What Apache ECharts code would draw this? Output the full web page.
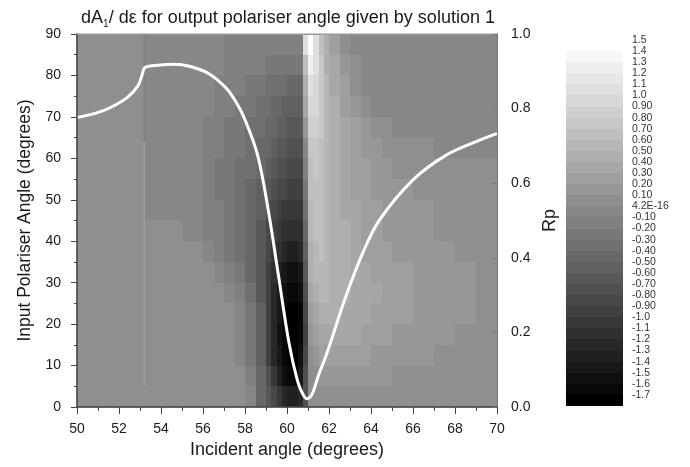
<!DOCTYPE html>
<html><head><meta charset="utf-8">
<script src="https://cdn.jsdelivr.net/npm/echarts@6/dist/echarts.min.js"></script>
<style>html,body{margin:0;padding:0;background:#fff}#c{width:690px;height:467px}</style>
</head><body><div id="c"></div>
<script>
// ---- data ----
// column (incident angle) bin edges, degrees
const incidentEdges = [50,53.2,54,55,56,56.5,57,57.5,58,58.5,59,59.25,59.5,59.75,60,60.25,60.5,60.75,61,61.25,61.5,61.75,62,62.5,63,63.5,64,64.5,65,66,67,68,69,70];
// row (input polariser angle) bin edges, from top to bottom
const polariserEdges = [90,85,80,75,70,65,60,55,50,45,40,35,30,25,20,15,10,5,0];
// dA1/de, one row per polariser band (top row first)
const dAdeRows = [
 [0.05,-0.05,-0.05,-0.05,-0.05,-0.05,-0.15,-0.15,-0.15,-0.15,-0.15,-0.15,-0.15,-0.15,-0.15,-0.15,-0.15,1.05,1.45,1.0,0.65,0.45,0.25,0.05,-0.05,-0.05,-0.05,-0.05,-0.05,-0.05,-0.05,-0.05,-0.05],
 [0.05,-0.05,-0.05,-0.05,-0.05,-0.05,-0.15,-0.15,-0.15,-0.15,-0.25,-0.25,-0.25,-0.25,-0.25,-0.25,-0.25,0.65,1.25,1.0,0.7,0.45,0.3,0.15,0.05,-0.05,-0.05,-0.05,-0.05,-0.05,-0.05,-0.05,-0.05],
 [0.05,-0.05,-0.05,-0.05,-0.05,-0.15,-0.15,-0.15,-0.25,-0.25,-0.35,-0.35,-0.35,-0.35,-0.45,-0.45,-0.45,0.45,1.05,0.95,0.75,0.55,0.35,0.2,0.05,-0.05,-0.05,-0.05,-0.05,-0.05,-0.05,-0.05,-0.05],
 [0.05,-0.05,-0.05,-0.05,-0.05,-0.15,-0.15,-0.25,-0.25,-0.35,-0.35,-0.45,-0.45,-0.55,-0.55,-0.55,-0.55,0.3,0.95,0.9,0.75,0.55,0.4,0.25,0.15,0.05,-0.05,-0.05,-0.05,-0.05,-0.05,-0.05,-0.05],
 [0.05,-0.05,-0.05,-0.05,-0.15,-0.15,-0.25,-0.25,-0.35,-0.35,-0.45,-0.45,-0.55,-0.55,-0.65,-0.65,-0.65,0.15,0.85,0.85,0.7,0.55,0.4,0.3,0.2,0.15,0.05,0.05,-0.05,-0.05,-0.05,-0.05,-0.05],
 [0.05,-0.05,-0.05,-0.05,-0.15,-0.15,-0.25,-0.25,-0.35,-0.45,-0.45,-0.55,-0.65,-0.65,-0.75,-0.75,-0.75,-0.05,0.75,0.75,0.65,0.55,0.45,0.3,0.25,0.15,0.15,0.05,0.05,0.05,-0.05,-0.05,-0.05],
 [0.05,-0.05,-0.05,-0.05,-0.15,-0.25,-0.25,-0.35,-0.35,-0.45,-0.55,-0.65,-0.75,-0.75,-0.85,-0.85,-0.85,-0.15,0.65,0.7,0.65,0.55,0.45,0.35,0.25,0.2,0.15,0.15,0.05,0.05,0.05,0.05,0.05],
 [0.05,-0.05,-0.05,-0.05,-0.15,-0.25,-0.25,-0.35,-0.45,-0.55,-0.65,-0.75,-0.85,-0.85,-0.95,-0.95,-0.95,-0.25,0.6,0.65,0.6,0.55,0.45,0.35,0.25,0.2,0.15,0.15,0.15,0.05,0.05,0.05,0.05],
 [0.05,-0.05,-0.05,-0.05,-0.15,-0.15,-0.25,-0.35,-0.45,-0.55,-0.75,-0.85,-0.95,-1.05,-1.05,-1.05,-1.05,-0.35,0.55,0.6,0.6,0.55,0.45,0.35,0.3,0.25,0.2,0.15,0.15,0.15,0.05,0.05,0.05],
 [0.05,0.05,0.05,-0.05,-0.15,-0.15,-0.25,-0.35,-0.45,-0.65,-0.85,-0.95,-1.05,-1.15,-1.15,-1.15,-1.15,-0.45,0.5,0.6,0.6,0.55,0.45,0.4,0.3,0.25,0.25,0.15,0.15,0.15,0.05,0.05,0.05],
 [0.05,0.05,0.05,0.05,-0.05,-0.15,-0.25,-0.35,-0.45,-0.65,-0.85,-1.05,-1.15,-1.25,-1.35,-1.35,-1.25,-0.55,0.45,0.55,0.6,0.55,0.45,0.4,0.35,0.25,0.25,0.25,0.15,0.15,0.15,0.05,0.05],
 [0.05,0.05,0.05,0.05,0.05,-0.05,-0.15,-0.25,-0.45,-0.65,-0.95,-1.15,-1.35,-1.45,-1.55,-1.55,-1.45,-0.65,0.4,0.5,0.55,0.5,0.45,0.4,0.35,0.35,0.25,0.25,0.25,0.15,0.15,0.15,0.05],
 [0.05,0.05,0.05,0.05,0.05,0.05,-0.05,-0.15,-0.35,-0.65,-0.95,-1.25,-1.45,-1.55,-1.65,-1.65,-1.55,-0.75,0.3,0.45,0.5,0.5,0.45,0.4,0.35,0.35,0.3,0.25,0.25,0.15,0.15,0.15,0.05],
 [0.05,0.05,0.05,0.05,0.05,0.05,0.05,-0.05,-0.25,-0.55,-0.95,-1.25,-1.45,-1.65,-1.75,-1.75,-1.65,-0.85,0.25,0.35,0.45,0.45,0.45,0.35,0.35,0.35,0.25,0.25,0.25,0.15,0.15,0.15,0.05],
 [0.05,0.05,0.05,0.05,0.05,0.05,0.05,-0.05,-0.25,-0.55,-0.95,-1.25,-1.55,-1.65,-1.75,-1.75,-1.65,-0.95,0.15,0.25,0.35,0.35,0.35,0.35,0.3,0.25,0.25,0.25,0.15,0.15,0.15,0.05,0.05],
 [0.05,0.05,0.05,0.05,0.05,0.05,0.05,-0.05,-0.25,-0.55,-0.95,-1.25,-1.45,-1.65,-1.75,-1.75,-1.55,-0.85,0.05,0.15,0.25,0.25,0.25,0.25,0.25,0.25,0.15,0.15,0.15,0.15,0.05,0.05,0.05],
 [0.05,0.05,0.05,0.05,0.05,0.05,0.05,0.05,-0.15,-0.45,-0.75,-1.05,-1.35,-1.55,-1.65,-1.65,-1.45,-0.75,0.05,0.05,0.15,0.15,0.15,0.15,0.15,0.15,0.15,0.15,0.05,0.05,0.05,0.05,0.05],
 [0.05,0.05,0.05,0.05,0.05,0.05,0.05,0.05,-0.05,-0.45,-0.65,-0.85,-1.05,-1.25,-1.35,-1.35,-1.25,-0.75,0.05,0.05,0.05,0.05,0.05,0.05,0.05,0.05,0.05,0.05,0.05,0.05,0.05,0.05,0.05]
];
// Rp curve (right axis)
const rpAngles = [50,50.9,51.6,52.4,52.9,53.1,53.2,53.35,54.0,54.6,55.4,56.3,57.1,57.6,58.0,58.6,59.1,59.6,60.1,60.5,60.75,60.95,61.2,61.5,61.9,62.8,63.6,64.4,66.0,67.6,69.2,70];
const rpValues = [0.776,0.788,0.803,0.83,0.861,0.89,0.908,0.913,0.917,0.919,0.913,0.893,0.855,0.815,0.77,0.675,0.53,0.35,0.17,0.07,0.035,0.022,0.035,0.085,0.144,0.296,0.412,0.501,0.609,0.676,0.716,0.733];
// faint vertical feature at 53.2 degrees
const edgeLineLight = [[53.2,5],[53.2,64]];
const edgeLineDark = [[53.2,64],[53.2,90]];
// contour levels of the colour scale
const levelEdges = [-1.8,-1.7,-1.6,-1.5,-1.4,-1.3,-1.2,-1.1,-1.0,-0.9,-0.8,-0.7,-0.6,-0.5,-0.4,-0.3,-0.2,-0.1,0,0.1,0.2,0.3,0.4,0.5,0.6,0.7,0.8,0.9,1.0,1.1,1.2,1.3,1.4,1.5];

// ---- build ----
const FONT = "'Liberation Sans', Arial, sans-serif";
const nLev = levelEdges.length - 1;
const pieces = [];
for (let i = 0; i < nLev; i++) {
  const g = Math.round(i * 255 / (nLev - 1));
  const p = { gte: levelEdges[i], color: 'rgb(' + g + ',' + g + ',' + g + ')' };
  if (i === nLev - 1) p.lte = levelEdges[i + 1]; else p.lt = levelEdges[i + 1];
  pieces.push(p);
}
const cells = [];
for (let r = 0; r < dAdeRows.length; r++) {
  for (let c = 0; c < dAdeRows[r].length; c++) {
    cells.push([incidentEdges[c], incidentEdges[c + 1], polariserEdges[r + 1], polariserEdges[r], dAdeRows[r][c]]);
  }
}
const barCells = [];
for (let i = 0; i < nLev; i++) {
  barCells.push([0, 1, levelEdges[i], levelEdges[i + 1], (levelEdges[i] + levelEdges[i + 1]) / 2]);
}
function renderCell(params, api) {
  const p0 = api.coord([api.value(0), api.value(2)]);
  const p1 = api.coord([api.value(1), api.value(3)]);
  const x0 = Math.round(Math.min(p0[0], p1[0])), x1 = Math.round(Math.max(p0[0], p1[0]));
  const y0 = Math.round(Math.min(p0[1], p1[1])), y1 = Math.round(Math.max(p0[1], p1[1]));
  return { type: 'rect', shape: { x: x0, y: y0, width: x1 - x0, height: y1 - y0 }, style: { fill: api.visual('color') } };
}
function barLabel(v) {
  const r = Math.round(v * 10) / 10;
  if (Math.abs(r + 1.8) < 1e-6) return '';
  if (Math.abs(r) < 1e-6) return '4.2E-16';
  if (Math.abs(r) < 1) return r.toFixed(2);
  return r.toFixed(1);
}
const axisCol = '#444';
const txtCol = '#1a1a1a';
const chart = echarts.init(document.getElementById('c'), null, { renderer: 'canvas' });
chart.setOption({
  animation: false,
  backgroundColor: '#fff',
  textStyle: { fontFamily: FONT },
  title: {
    text: '{a|dA}{s|1}{a|/ dε for output polariser angle given by solution 1}',
    left: 283, top: 2, textAlign: 'center',
    textStyle: { fontWeight: 'normal', rich: {
      a: { fontSize: 18, fontFamily: FONT, fontWeight: 'normal', color: txtCol, lineHeight: 22 },
      s: { fontSize: 10, fontFamily: FONT, fontWeight: 'normal', color: txtCol, lineHeight: 12, verticalAlign: 'bottom' }
    } }
  },
  visualMap: { type: 'piecewise', show: false, dimension: 4, seriesIndex: [0, 1], pieces: pieces },
  grid: [
    { left: 77, top: 34, width: 420, height: 373, show: true, borderColor: '#999', borderWidth: 1, backgroundColor: 'transparent' },
    { left: 566, top: 40, width: 57, height: 366 }
  ],
  xAxis: [
    { gridIndex: 0, type: 'value', min: 50, max: 70, interval: 2, z: 10,
      axisLine: { show: true, onZero: false, lineStyle: { color: axisCol, width: 1.5 } },
      axisTick: { show: true, length: 7, lineStyle: { color: axisCol } },
      minorTick: { show: true, splitNumber: 2, length: 4, lineStyle: { color: axisCol } },
      splitLine: { show: false }, minorSplitLine: { show: false },
      axisLabel: { fontSize: 14, color: txtCol, margin: 15, fontFamily: FONT },
      name: 'Incident angle (degrees)', nameLocation: 'middle', nameGap: 33,
      nameTextStyle: { fontSize: 18, color: txtCol, fontFamily: FONT } },
    { gridIndex: 0, type: 'value', min: 50, max: 70, position: 'top', z: 10,
      axisLine: { show: true, onZero: false, lineStyle: { color: '#999', width: 1 } },
      axisTick: { show: false }, axisLabel: { show: false }, splitLine: { show: false } },
    { gridIndex: 1, type: 'value', min: 0, max: 1, show: false }
  ],
  yAxis: [
    { gridIndex: 0, type: 'value', min: 0, max: 90, interval: 10, z: 10,
      axisLine: { show: true, onZero: false, lineStyle: { color: axisCol, width: 1.5 } },
      axisTick: { show: true, length: 6, lineStyle: { color: axisCol } },
      minorTick: { show: true, splitNumber: 2, length: 3, lineStyle: { color: axisCol } },
      splitLine: { show: false }, minorSplitLine: { show: false },
      axisLabel: { fontSize: 14, color: txtCol, margin: 16, fontFamily: FONT },
      name: 'Input Polariser Angle (degrees)', nameLocation: 'middle', nameGap: 39,
      nameTextStyle: { fontSize: 17.5, color: txtCol, fontFamily: FONT } },
    { gridIndex: 0, type: 'value', min: 0, max: 1, interval: 0.2, position: 'right', z: 10,
      axisLine: { show: true, onZero: false, lineStyle: { color: '#777', width: 1 } },
      axisTick: { show: true, inside: true, length: 4, lineStyle: { color: '#777' } },
      splitLine: { show: false },
      axisLabel: { fontSize: 14, color: txtCol, margin: 14, fontFamily: FONT, formatter: v => v.toFixed(1) },
      name: 'Rp', nameLocation: 'middle', nameGap: 29,
      nameTextStyle: { fontSize: 18, color: txtCol, fontFamily: FONT } },
    { gridIndex: 1, type: 'value', min: -1.8, max: 1.5, interval: 0.1, position: 'right',
      axisLine: { show: false }, axisTick: { show: false }, splitLine: { show: false },
      axisLabel: { fontSize: 10.5, color: '#333', margin: 9, fontFamily: FONT, formatter: barLabel } }
  ],
  series: [
    { type: 'custom', name: 'dA1/de', xAxisIndex: 0, yAxisIndex: 0, renderItem: renderCell, data: cells,
      encode: { x: [0, 1], y: [2, 3] }, clip: true, silent: true, z: 1 },
    { type: 'custom', name: 'scale', xAxisIndex: 2, yAxisIndex: 2, renderItem: renderCell, data: barCells,
      encode: { x: [0, 1], y: [2, 3] }, silent: true, z: 1 },
    { type: 'line', xAxisIndex: 0, yAxisIndex: 0, data: edgeLineLight, symbol: 'none', silent: true, z: 2,
      lineStyle: { color: '#a0a0a0', width: 1.5 } },
    { type: 'line', xAxisIndex: 0, yAxisIndex: 0, data: edgeLineDark, symbol: 'none', silent: true, z: 2,
      lineStyle: { color: '#7c7c7c', width: 1 } },
    { type: 'line', name: 'Rp', xAxisIndex: 0, yAxisIndex: 1, data: rpAngles.map((a, i) => [a, rpValues[i]]),
      symbol: 'none', smooth: 0.35, silent: true, z: 3,
      lineStyle: { color: '#ffffff', width: 3 } }
  ]
});
</script></body></html>
